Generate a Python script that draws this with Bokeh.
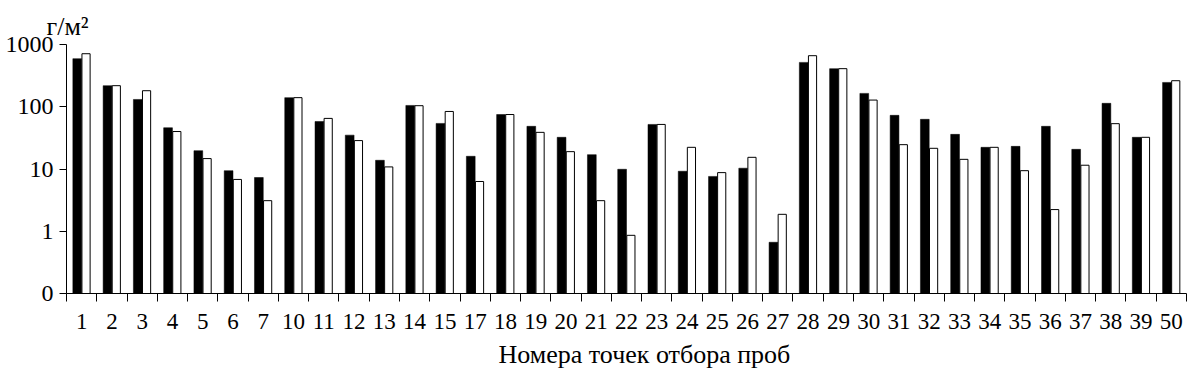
from bokeh.plotting import figure
from bokeh.models import FixedTicker, Range1d, Title
from bokeh.embed import file_html
from bokeh.resources import INLINE

# --- data ---
categories = ["1", "2", "3", "4", "5", "6", "7", "10", "11", "12", "13", "14", "15",
              "17", "18", "19", "20", "21", "22", "23", "24", "25", "26", "27", "28",
              "29", "30", "31", "32", "33", "34", "35", "36", "37", "38", "39", "50"]
black_values = [592, 218, 131, 46, 19.7, 9.4, 7.3, 140, 58, 35, 13.8, 105, 54,
                16, 75, 48.5, 32.3, 17, 9.9, 52, 9.2, 7.6, 10.3, 0.665, 516,
                409, 164, 72.8, 62.8, 36, 22.3, 23.1, 48.5, 20.7, 113.5, 32.3, 246]
white_values = [711, 218, 181, 40, 14.7, 6.8, 3.1, 140, 65, 28.6, 10.8, 104, 84,
                6.3, 75, 38.8, 19, 3.1, 0.86, 52, 22.3, 8.75, 15.4, 1.87, 661,
                409, 128, 24.6, 21.5, 14.3, 22.3, 9.4, 2.23, 11.5, 53.5, 32.3, 262]
y_ticks = [0.1, 1, 10, 100, 1000]
y_tick_labels = ["0", "1", "10", "100", "1000"]
x_title = "Номера точек отбора проб"
unit_text = "г/м²"

FONT = "Liberation Serif"
n = len(categories)
pos = list(range(1, n + 1))

p = figure(width=1195, height=383, y_axis_type="log",
           x_range=Range1d(0.5, n + 0.5), y_range=Range1d(0.1, 1000),
           output_backend="svg", toolbar_location=None,
           min_border_left=66, min_border_right=9, min_border_top=44, min_border_bottom=90)
p.outline_line_color = None
p.xgrid.grid_line_color = None
p.ygrid.grid_line_color = None
p.background_fill_color = "white"
p.border_fill_color = "white"

bw = 0.29
p.vbar(x=[x - bw / 2 for x in pos], width=bw, bottom=0.1, top=black_values,
       fill_color="black", line_color="black", line_width=0.5)
p.vbar(x=[x + bw / 2 for x in pos], width=bw - 0.02, bottom=0.1, top=white_values,
       fill_color="white", line_color="black", line_width=1)

# y axis
ya = p.yaxis[0]
ya.ticker = FixedTicker(ticks=y_ticks, minor_ticks=[])
ya.major_label_overrides = {t: l for t, l in zip(y_ticks, y_tick_labels)}
ya.major_tick_out = 7
ya.major_tick_in = 0
ya.minor_tick_out = 0
ya.minor_tick_in = 0
ya.major_label_standoff = 6
ya.major_label_text_font = FONT
ya.major_label_text_font_size = "24px"
ya.major_label_text_color = "black"
ya.axis_line_color = "black"
ya.major_tick_line_color = "black"

# x axis
xa = p.xaxis[0]
xa.ticker = FixedTicker(ticks=pos, minor_ticks=[i + 0.5 for i in range(0, n + 1)])
xa.major_label_overrides = {x: c for x, c in zip(pos, categories)}
xa.major_tick_out = 0
xa.major_tick_in = 0
xa.minor_tick_out = 8
xa.minor_tick_in = 0
xa.minor_tick_line_color = "black"
xa.major_label_standoff = 12
xa.major_label_text_font = FONT
xa.major_label_text_font_size = "23px"
xa.major_label_text_color = "black"
xa.axis_line_color = "black"

# x title (below) shifted to the right like the reference
p.add_layout(Title(text=x_title, align="left", offset=432, text_font=FONT,
                   text_font_size="26px", text_font_style="normal",
                   text_color="black", standoff=12), "below")
# unit label above the y axis
p.add_layout(Title(text=unit_text, align="left", offset=-20, text_font=FONT,
                   text_font_size="26px", text_font_style="normal",
                   text_color="black", standoff=8), "above")

open("out.html", "w").write(file_html(p, INLINE))
